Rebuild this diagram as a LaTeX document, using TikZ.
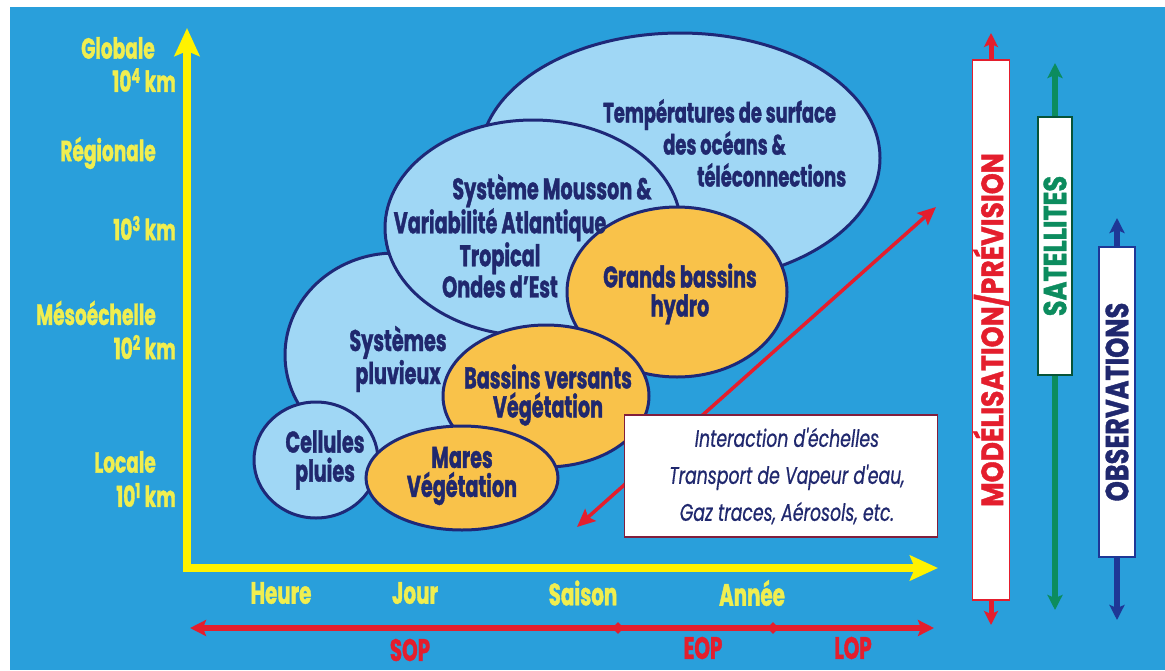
\documentclass[tikz,border=0pt]{standalone}
\usepackage{fontspec}
\setmainfont{Poppins}[FakeStretch=0.64, BoldFeatures={FakeBold=1.2}]
\newfontfamily\capsA{Poppins}[FakeStretch=0.86, BoldFeatures={FakeBold=1.2}]
\newfontfamily\capsB{Poppins}[FakeStretch=0.80, BoldFeatures={FakeBold=1.2}]
\newfontfamily\itfont{Poppins}[FakeStretch=0.72, ItalicFeatures={FakeBold=0.6}]
\usetikzlibrary{arrows.meta,shapes.geometric}
\definecolor{bgblue}{RGB}{41,159,219}
\definecolor{lblue}{RGB}{160,215,245}
\definecolor{orng}{RGB}{249,194,74}
\definecolor{navy}{RGB}{30,40,120}
\definecolor{navytxt}{RGB}{32,40,110}
\definecolor{ylw}{RGB}{255,242,0}
\definecolor{ylwtxt}{RGB}{240,238,80}
\definecolor{rd}{RGB}{228,30,45}
\definecolor{grn}{RGB}{12,140,94}
\definecolor{obsblue}{RGB}{30,55,150}
\definecolor{boxred}{RGB}{130,30,60}
\tikzset{
  ell/.style={ellipse, draw=navy, line width=3pt, inner sep=0pt},
  lb/.style={ell, fill=lblue},
  og/.style={ell, fill=orng},
  etxt/.style={text=navytxt, font=\bfseries\fontsize{30}{29}\selectfont, align=center, inner sep=0pt},
  ylab/.style={text=ylwtxt, font=\bfseries\fontsize{29}{29}\selectfont, anchor=east, inner sep=0pt},
  tlab/.style={text=ylwtxt, font=\bfseries\fontsize{31}{31}\selectfont, inner sep=0pt},
  plab/.style={text=rd, font=\bfseries\fontsize{31}{31}\selectfont, inner sep=0pt},
  yaxis/.style={draw=ylw, line width=8pt, line join=miter},
  bar/.style={draw, fill=white, line width=1.2pt, inner sep=0pt},
  tick/.style={diamond, fill=rd, inner sep=0pt, minimum size=12pt},
}
\begin{document}
\begin{tikzpicture}[x=1pt,y=-1pt]
\useasboundingbox (0,0) rectangle (1165,670);
\fill[white] (0,0) rectangle (1165,670);
\fill[bgblue] (10,7) rectangle (1165,670);

% axes
\coordinate (ytop) at (187,28);
\coordinate (O) at (187,568);
\coordinate (xend) at (938,568);
\draw[yaxis, {Stealth[length=28pt,width=25pt,inset=5pt]}-{Stealth[length=28pt,width=25pt,inset=5pt]}] (ytop) -- (O) -- (xend);

% y labels
\node[ylab] (lglob) at (155,48) {Globale};
\node[ylab] (l4) at (176,80) {10\textsuperscript{4} km};
\node[ylab] (lreg) at (156,153) {Régionale};
\node[ylab] (l3) at (176,228) {10\textsuperscript{3} km};
\node[ylab] (lmeso) at (156,313) {Mésoéchelle};
\node[ylab] (l2) at (176,347) {10\textsuperscript{2} km};
\node[ylab] (lloc) at (156,462) {Locale};
\node[ylab] (l1) at (176,495) {10\textsuperscript{1} km};

% x labels
\node[tlab] (theure) at (281,593) {Heure};
\node[tlab] (tjour) at (415,593) {Jour};
\node[tlab] (tsaison) at (583,593) {Saison};
\node[tlab] (tannee) at (752,593) {Année};

% time periods arrow
\coordinate (pa) at (190,628);
\coordinate (pb) at (934,628);
\draw[rd, line width=6pt, {Stealth[length=16pt,width=16pt,inset=3pt]}-{Stealth[length=16pt,width=16pt,inset=3pt]}] (pa) -- (pb);
\node[tick] (tk1) at (618,628) {};
\node[tick] (tk2) at (773,628) {};
\node[plab] (sop) at (410,650) {SOP};
\node[plab] (eop) at (703,648) {EOP};
\node[plab] (lop) at (853,648) {LOP};

% ellipses
\node[lb, minimum width=400pt, minimum height=250pt] (temp) at (680,158) {};
\node[lb, minimum width=220pt, minimum height=204pt] (pluv) at (395,355) {};
\node[lb, minimum width=296pt, minimum height=216pt] (mous) at (533,228) {};
\node[lb, minimum width=124pt, minimum height=116pt] (cell) at (316,460) {};
\node[og, minimum width=220pt, minimum height=170pt] (grand) at (677,292) {};
\node[og, minimum width=206pt, minimum height=142pt] (bv) at (546,396) {};
\node[og, minimum width=192pt, minimum height=104pt] (mares) at (462,478) {};

% ellipse texts
\node[etxt, align=left, anchor=west, font=\bfseries\fontsize{28}{32}\selectfont] (ttemp) at (603,143) {Températures de surface\\\hspace*{60pt}des océans \&\\\hspace*{94pt}téléconnections};
\node[etxt] (tmous) at (500,236) {\hspace*{104pt}Système Mousson \&\\Variabilité Atlantique\\Tropical\\Ondes d'Est};
\node[etxt] (tpluv) at (398,359) {Systèmes\\pluvieux};
\node[etxt] (tcell) at (325,460) {Cellules\\pluies};
\node[etxt] (tgrand) at (680,294) {Grands bassins\\hydro};
\node[etxt] (tbv) at (548,395) {Bassins versants\\Végétation};
\node[etxt] (tmares) at (462,476) {Mares\\Végétation};

% diagonal interaction arrow
\coordinate (da) at (577,527);
\coordinate (db) at (936,207);
\draw[rd, line width=3.5pt, {Stealth[length=18pt,width=16pt,inset=3pt]}-{Stealth[length=18pt,width=16pt,inset=3pt]}] (da) -- (db);

% interaction box
\node[draw=boxred, fill=white, line width=1.5pt, minimum width=313pt, minimum height=122pt, inner sep=0pt,
  text=navytxt, align=center, font=\itfont\itshape\fontsize{24}{37}\selectfont] (ibox) at (781,476)
  {\hspace*{12pt}Interaction d'échelles\\\hspace*{12pt}Transport de Vapeur d'eau,\\\hspace*{12pt}Gaz traces, Aérosols, etc.};

% right bars
\coordinate (modtop) at (991,33);
\coordinate (modbot) at (991,625);
\coordinate (sattop) at (1055,63);
\coordinate (satbot) at (1055,610);
\coordinate (obstop) at (1117,218);
\coordinate (obsbot) at (1117,620);
\node[bar, draw=rd, minimum width=37pt, minimum height=540pt] (modbox) at (991,330)
  {\rotatebox{90}{\capsA\bfseries\color{rd}\fontsize{31}{31}\selectfont MODÉLISATION/PRÉVISION}};
\node[bar, draw=grn!60!black, minimum width=34pt, minimum height=258pt] (satbox) at (1055,246)
  {\rotatebox{90}{\capsB\bfseries\color{grn}\fontsize{32}{32}\selectfont SATELLITES}};
\node[bar, draw=obsblue, minimum width=36pt, minimum height=310pt] (obsbox) at (1117,402)
  {\rotatebox{90}{\capsB\bfseries\color{navytxt}\fontsize{32}{32}\selectfont OBSERVATIONS}};
\draw[rd, line width=5pt, -{Stealth[length=14pt,width=14pt,inset=3pt]}] (modbox.north) -- (modtop);
\draw[rd, line width=5pt, -{Stealth[length=14pt,width=14pt,inset=3pt]}] (modbox.south) -- (modbot);
\draw[grn, line width=6pt, -{Stealth[length=15pt,width=15pt,inset=3pt]}] (satbox.north) -- (sattop);
\draw[grn, line width=6pt, -{Stealth[length=15pt,width=15pt,inset=3pt]}] (satbox.south) -- (satbot);
\draw[obsblue, line width=6pt, -{Stealth[length=15pt,width=15pt,inset=3pt]}] (obsbox.north) -- (obstop);
\draw[obsblue, line width=6pt, -{Stealth[length=15pt,width=15pt,inset=3pt]}] (obsbox.south) -- (obsbot);
\end{tikzpicture}
\end{document}
